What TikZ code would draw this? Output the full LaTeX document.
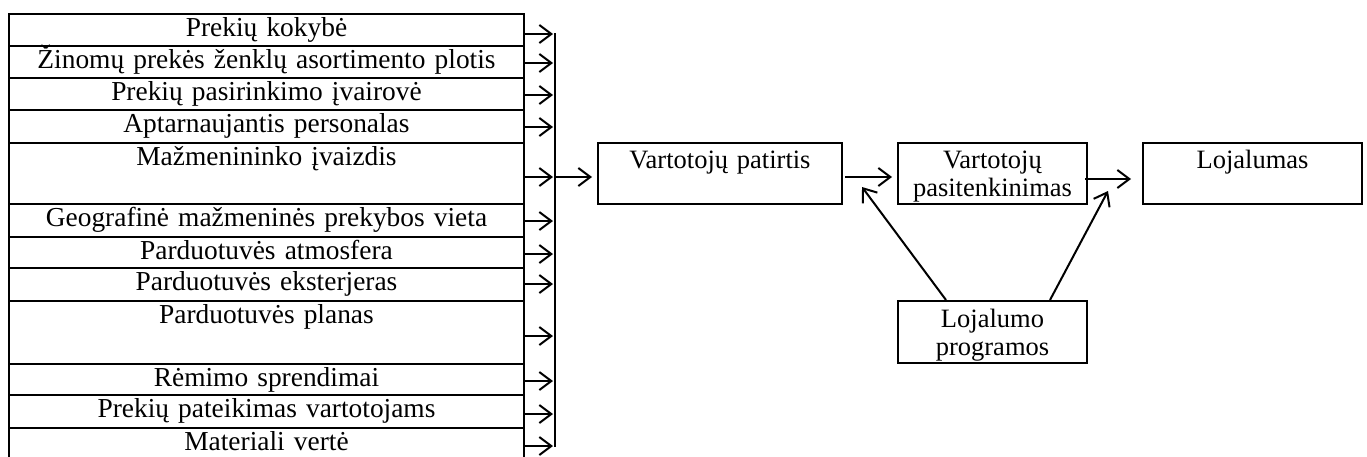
\documentclass[tikz,border=0pt]{standalone}
\usepackage{fontspec}
\setmainfont{Liberation Serif}
\usetikzlibrary{arrows.meta}
\begin{document}
\begin{tikzpicture}[x=1pt,y=-1pt,
  cell/.style={draw, line width=2pt, inner sep=0pt, anchor=north west, align=center,
    font=\fontsize{26.5}{28}\selectfont},
  row/.style={cell, text width=515pt, text height=22pt, text depth=#1pt-22pt,
    font=\fontsize{27.4}{29}\selectfont},
  arr/.style={line width=2pt, -{Straight Barb[length=12pt,width=18pt]}},
  bus/.style={line width=1.3pt}]
\useasboundingbox (0,0) rectangle (1367,456);
% left column of factors
\node[row=32] (r1) at (8,13) {Prekių kokybė};
\node[row=32] (r2) at (8,45) {Žinomų prekės ženklų asortimento plotis};
\node[row=32] (r3) at (8,77) {Prekių pasirinkimo įvairovė};
\node[row=33] (r4) at (8,109) {Aptarnaujantis personalas};
\node[row=61] (r5) at (8,142) {Mažmenininko įvaizdis};
\node[row=33] (r6) at (8,203) {Geografinė mažmeninės prekybos vieta};
\node[row=31] (r7) at (8,236) {Parduotuvės atmosfera};
\node[row=33] (r8) at (8,267) {Parduotuvės eksterjeras};
\node[row=63] (r9) at (8,300) {Parduotuvės planas};
\node[row=31] (r10) at (8,363) {Rėmimo sprendimai};
\node[row=33] (r11) at (8,394) {Prekių pateikimas vartotojams};
\node[row=32] (r12) at (8,427) {Materiali vertė};
% bus line
\coordinate (busT) at (555,33);
\coordinate (busB) at (555,447);
\draw[bus] (busT) -- (busB);
\foreach \r/\d in {r1/4,r2/1,r3/1,r4/0.5,r5/3.5,r6/0.5,r7/1.5,r8/-0.5,r9/3.5,r10/1.5,r11/2.5,r12/2}
  \draw[arr, shorten >=2pt] ([yshift=-\d pt]\r.east) -- ([yshift=-\d pt]\r.east -| busT);
% right boxes
\node[cell, text width=244pt, text height=25pt, text depth=36pt] (pat) at (597,142) {Vartotojų patirtis};
\node[cell, text width=189pt, text height=25pt, text depth=36pt] (sat) at (897,142) {Vartotojų\\pasitenkinimas};
\node[cell, text width=219pt, text height=25pt, text depth=36pt] (loy) at (1142,142) {Lojalumas};
\node[cell, text width=189pt, text height=26pt, text depth=36pt] (prog) at (897,300) {Lojalumo\\programos};
% connectors
\draw[arr, shorten >=5pt] ([yshift=-3.5pt]pat.west -| busT) -- ([yshift=-3.5pt]pat.west);
\draw[arr, shorten <=2pt, shorten >=5pt] ([yshift=-3.5pt]pat.east) -- ([yshift=-3.5pt]pat.east -| sat.west);
\draw[arr, shorten <=-3pt, shorten >=11pt] ([yshift=-5.5pt]sat.east) -- ([yshift=-5.5pt]sat.east -| loy.west);
\coordinate (tipL) at (862,187);
\coordinate (tipR) at (1108,191);
\draw[arr] ([xshift=-46.5pt]prog.north) -- (tipL);
\draw[arr] ([xshift=57.5pt]prog.north) -- (tipR);
\end{tikzpicture}
\end{document}
